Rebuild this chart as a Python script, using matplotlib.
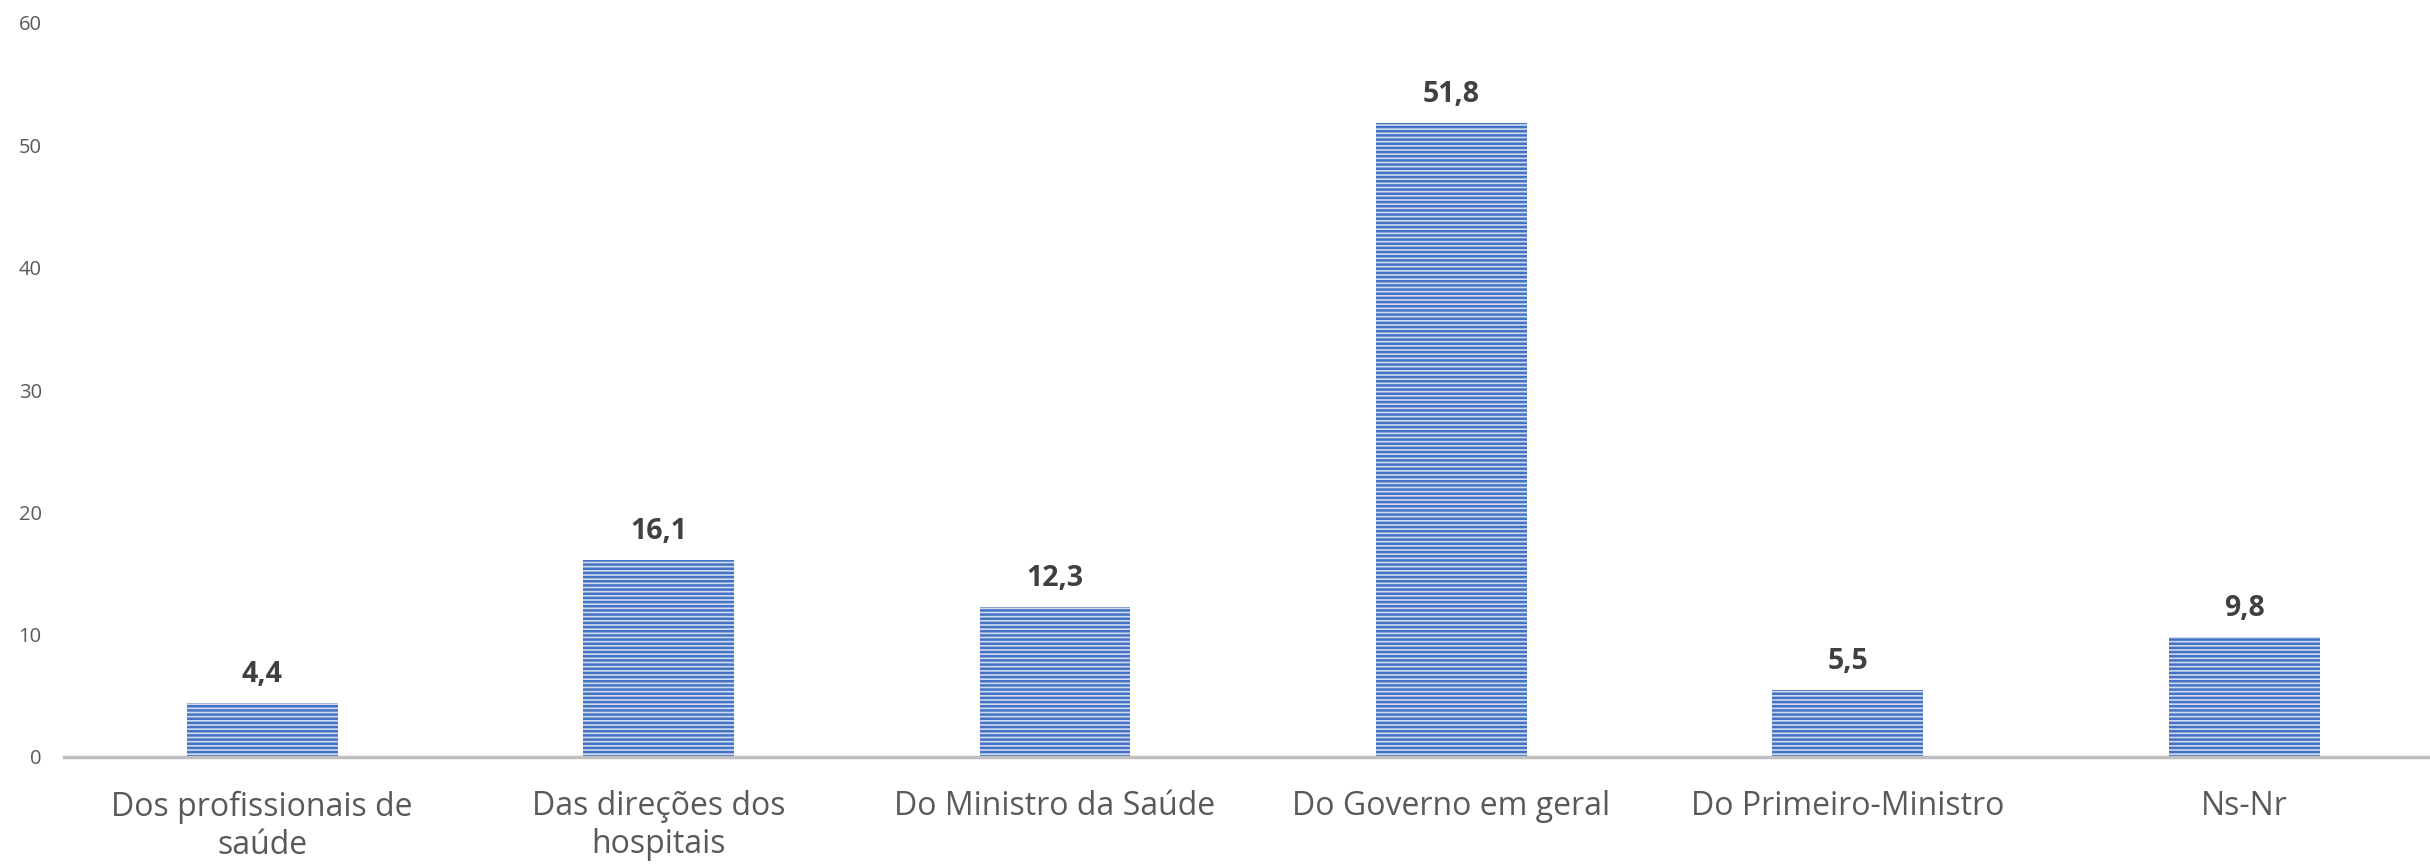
import matplotlib.pyplot as plt
import numpy as np

# Dados
categorias = ["Dos profissionais de\nsaúde", "Das direções dos\nhospitais", "Do Ministro da Saúde",
              "Do Governo em geral", "Do Primeiro-Ministro", "Ns-Nr"]
valores = [4.4, 16.1, 12.3, 51.8, 5.5, 9.8]
rotulos = ["4,4", "16,1", "12,3", "51,8", "5,5", "9,8"]
yticks = [0, 10, 20, 30, 40, 50, 60]

plt.rcParams["font.family"] = ["Open Sans", "DejaVu Sans"]
plt.rcParams["hatch.linewidth"] = 1.8

W, H = 2430, 867
fig = plt.figure(figsize=(W / 100, H / 100), dpi=100)
y0, y60 = 757, 23
left, slot = 64, 396.4
ax = fig.add_axes([left / W, (H - y0) / H, 6 * slot / W, (y0 - y60) / H])

x = np.arange(len(categorias))
ax.bar(x, valores, width=0.38, color="#d0dbef", edgecolor="#4472c4",
       hatch="----", linewidth=0, zorder=2)

# rótulos de dados
for xi, v, r in zip(x, valores, rotulos):
    ax.annotate(r, (xi, v), xytext=(0, 10), textcoords="offset points",
                ha="center", va="bottom", fontsize=20.5, fontweight="bold", color="#404040")

ax.set_xlim(-0.5, 5.5)
ax.set_ylim(0, 60)
ax.set_yticks(yticks)
ax.set_xticks(x)
ax.set_xticklabels(categorias, fontsize=23, color="#595959", linespacing=1.2)
ax.tick_params(axis="y", length=0, pad=16, labelsize=14.5, labelcolor="#595959")
ax.tick_params(axis="x", length=0, pad=24)

for s in ["top", "right", "left"]:
    ax.spines[s].set_visible(False)
ax.spines["bottom"].set_color("#bfbfbf")
ax.spines["bottom"].set_linewidth(2.5)
ax.spines["bottom"].set_zorder(3)

fig.savefig("out.png", dpi=100)
